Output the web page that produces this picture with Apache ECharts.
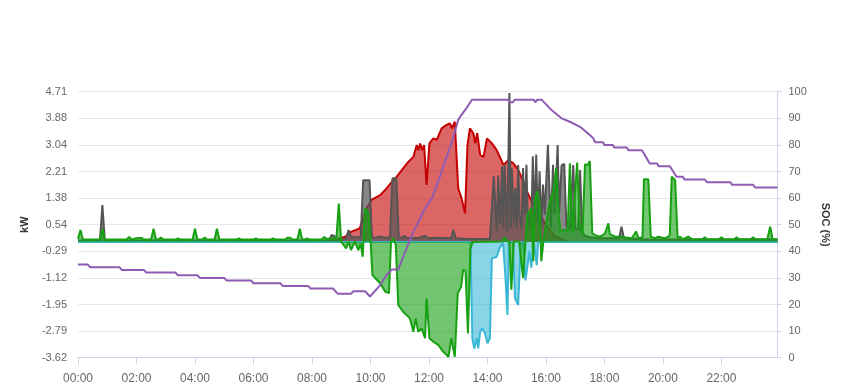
<!DOCTYPE html>
<html><head><meta charset="utf-8">
<script src="https://cdn.jsdelivr.net/npm/echarts@6/dist/echarts.min.js"></script>
<style>html,body{margin:0;padding:0;background:#fff}#c{width:849px;height:390px}</style>
</head><body><div id="c"></div>
<script>
// tick labels
const kwTicks = ["-3.62","-2.79","-1.95","-1.12","-0.29","0.54","1.38","2.21","3.04","3.88","4.71"];
const timeTicks = ["00:00","02:00","04:00","06:00","08:00","10:00","12:00","14:00","16:00","18:00","20:00","22:00"];
// [minute of day, value]
const soc = [[0,35],[20,35],[25,34],[85,34],[90,33],[135,33],[140,32],[200,32],[205,31],[245,31],[250,30],[300,30],[305,29],[355,29],[360,28],[415,28],[420,27],[472,27],[477,26],[523,26],[533,24],[560,24],[565,25],[589,25],[599,23],[620,27.3],[633,31.1],[644,33.2],[657,33.2],[685,46.1],[712,56.2],[726,59.9],[746,69.9],[767,81.2],[780,89.4],[784,90.6],[797,93.8],[808,97],[882,97],[886,96],[892,96],[896,97],[935,97],[938,96],[942,97],[951,97],[972,93],[992,90],[1009,88.7],[1030,86.8],[1050,83.7],[1057,82.5],[1061,81],[1077,81],[1080,80],[1097,80],[1100,79],[1126,79],[1129,78],[1157,78],[1173,73],[1188,73],[1191,72],[1214,72],[1228,68],[1241,68],[1244,67],[1286,67],[1290,66],[1338,66],[1342,65],[1385,65],[1389,64],[1435,64]];
const pv = [[0,0],[505,0],[510,0.02],[530,0.08],[548,0.17],[561,0.33],[578,0.43],[585,0.75],[592,1.06],[602,1.32],[620,1.47],[633,1.68],[644,1.89],[654,2.05],[667,2.31],[678,2.52],[688,2.67],[695,3.04],[698,2.88],[702,3.09],[706,2.88],[710,3.04],[715,1.79],[721,3.09],[729,3.25],[736,3.2],[746,3.56],[756,3.67],[763,3.72],[767,3.56],[773,3.77],[780,1.68],[787,1.37],[794,0.9],[799,3.04],[804,3.56],[811,3.41],[815,3.09],[819,3.41],[825,2.73],[832,2.67],[839,3.25],[849,3.09],[859,2.88],[873,2.41],[883,2.57],[893,2.47],[903,2.26],[914,1.89],[921,1.58],[931,1.27],[941,1.0],[951,0.75],[965,0.43],[979,0.17],[992,0.09],[1005,0],[1435,0]];
const load = [[0,0.05],[45,0.05],[50,1.16],[55,0.05],[515,0.05],[520,0.22],[525,0.2],[532,0.08],[550,0.1],[555,0.38],[560,0.17],[570,0.15],[580,0.15],[585,1.94],[598,1.94],[603,0.15],[610,0.14],[620,0.18],[630,0.14],[640,0.15],[645,2.0],[653,2.0],[658,0.14],[665,0.14],[670,0.2],[675,0.12],[700,0.14],[712,0.2],[718,0.12],[740,0.14],[765,0.12],[770,0.38],[775,0.12],[800,0.1],[845,0.1],[849,0.12],[853,2.06],[859,0.34],[862,2.09],[866,0.55],[870,2.37],[872.5,0.44],[875,2.42],[880.7,0.34],[885,4.67],[888,0.44],[890,2.32],[894,0.65],[897,1.69],[900,0.44],[903,2.42],[906,0.81],[910,0.44],[913,2.32],[916,0.86],[920,2.42],[923,0.44],[927,0.86],[930,0.44],[933,2.69],[937,0.65],[940,2.74],[943.5,0.55],[947,2.22],[950.5,0.44],[954,1.8],[957.5,0.86],[964,3.05],[970,0.44],[974.5,2.42],[978,0.86],[984,3.04],[987,0.9],[992,2.4],[997.5,2.45],[1002,0.5],[1009,0.4],[1016,2.41],[1020.6,0.4],[1026,0.4],[1030,2.26],[1034.6,0.3],[1040,0.2],[1050,0.15],[1071,0.12],[1110,0.12],[1115,0.48],[1120,0.12],[1160,0.08],[1435,0.08]];
const grid = [[0,0],[805,0],[809,-3.01],[813,-3.33],[818,-3.01],[821,-3.33],[825,-2.81],[829,-2.7],[835,-2.86],[840,-3.17],[845,-3.01],[849,-0.51],[859,-0.46],[865,-0.18],[872,-0.02],[874.5,0],[877,-1.13],[881,-2.28],[884,0],[892,0],[896.5,-1.75],[903,-1.97],[908.5,0],[913,0],[918,-1.2],[922,-1.2],[926,-0.3],[930,-0.8],[935,0],[941,-0.72],[944,0],[1435,0]];
const battery = [[0,0.1],[5,0.38],[10,0.08],[45,0.08],[50,0.42],[55,0.08],[100,0.08],[105,0.16],[110,0.08],[120,0.12],[125,0.13],[130,0.13],[135,0.08],[150,0.08],[155,0.42],[160,0.08],[165,0.08],[170,0.14],[175,0.08],[200,0.08],[205,0.12],[210,0.08],[235,0.08],[240,0.42],[245,0.08],[255,0.08],[260,0.14],[265,0.08],[280,0.08],[285,0.42],[290,0.08],[325,0.08],[330,0.12],[335,0.08],[360,0.08],[365,0.12],[370,0.08],[395,0.08],[400,0.12],[405,0.08],[425,0.08],[430,0.14],[435,0.14],[440,0.08],[450,0.08],[455,0.42],[460,0.08],[465,0.08],[470,0.12],[475,0.08],[500,0.08],[505,0.16],[510,0.1],[525,0.12],[530,0.1],[535,1.21],[540,0.0],[545,-0.09],[550,-0.2],[555,0.02],[560,-0.25],[568,0.02],[575,-0.25],[580,-0.05],[584,-0.46],[589,1.06],[595,0.95],[600,0.1],[604,-1.03],[610,-1.13],[620,-1.29],[630,-1.55],[638,-1.6],[642,0.0],[647,0.12],[652,-0.1],[657,-1.97],[667,-2.18],[674,-2.28],[681,-2.39],[688,-2.81],[693,-2.39],[698,-2.81],[705,-2.7],[712,-3.01],[715,-1.76],[721,-3.01],[729,-3.12],[739,-3.22],[749,-3.43],[760,-3.59],[766,-3.01],[773,-3.59],[779,-1.6],[786,-1.4],[790,-0.87],[795,-0.9],[800,-2.86],[805,-0.2],[810,0.0],[870,0.02],[875,0.15],[880,0.05],[885,0.0],[889,-1.49],[894,0.02],[905,0.02],[913,-1.12],[918,0.02],[922,0.86],[930,1.07],[934,-0.6],[937,1.28],[942,1.59],[947,1.17],[950.5,-0.6],[955,0.05],[961,0.65],[968,1.28],[975,1.59],[981,2.32],[986,0.86],[990,0.33],[994,0.33],[999,0.4],[1004.6,0.36],[1009,2.47],[1014,0.27],[1018,0.27],[1024,2.49],[1030,0.4],[1035,0.27],[1040,2.44],[1045,2.4],[1050,2.54],[1055,0.27],[1061,0.22],[1071,0.17],[1081,0.27],[1088,0.59],[1091,0.25],[1102,0.17],[1112,0.17],[1136,0.12],[1145,0.33],[1150,0.12],[1158,0.15],[1161,1.97],[1170,1.97],[1175,0.17],[1184,0.12],[1190,0.17],[1204,0.12],[1214,0.2],[1218,2.05],[1225,1.94],[1230,0.12],[1235,0.17],[1241,0.09],[1252,0.17],[1260,0.09],[1281,0.09],[1286,0.15],[1291,0.09],[1315,0.09],[1320,0.15],[1325,0.09],[1346,0.09],[1351,0.15],[1356,0.09],[1380,0.09],[1385,0.15],[1390,0.09],[1414,0.09],[1420,0.48],[1425,0.09],[1435,0.09]];

const KW_MIN = -3.62, KW_MAX = 4.71, KW_INT = (KW_MAX - KW_MIN) / 10;
const FONT = '"Liberation Sans", Arial, sans-serif';

function area(name, data, color, op, z) {
  return {
    name, type: 'line', data, yAxisIndex: 0, showSymbol: false, symbol: 'none',
    lineStyle: { color, width: 2 }, itemStyle: { color },
    areaStyle: { color, opacity: op, origin: 'auto' }, z, silent: true
  };
}

const chart = echarts.init(document.getElementById('c'), null, { renderer: 'canvas' });
chart.setOption({
  animation: false,
  backgroundColor: '#fff',
  grid: { left: 78, right: 71.5, top: 91.7, bottom: 32.3, containLabel: false, outerBoundsMode: 'none' },
  xAxis: {
    type: 'value', min: 0, max: 1435, interval: 120,
    axisLine: { show: true, onZero: false, lineStyle: { color: '#ccd6eb', width: 1 } },
    axisTick: { show: true, length: 7, lineStyle: { color: '#ccd6eb' }, customValues: timeTicks.map((_, i) => i * 120) },
    axisLabel: { color: '#666', fontSize: 12, fontFamily: FONT, margin: 15,
      customValues: timeTicks.map((_, i) => i * 120),
      formatter: v => timeTicks[Math.round(v / 120)] || '' },
    splitLine: { show: false }
  },
  yAxis: [
    {
      type: 'value', min: KW_MIN, max: KW_MAX, interval: KW_INT,
      name: 'kW', nameLocation: 'middle', nameGap: 48, nameRotate: 90,
      nameTextStyle: { color: '#333', fontSize: 11, fontWeight: 'bold', fontFamily: FONT },
      axisLine: { show: false }, axisTick: { show: false },
      axisLabel: { color: '#666', fontSize: 11, fontFamily: FONT, margin: 11,
        formatter: v => kwTicks[Math.round((v - KW_MIN) / KW_INT)] },
      splitLine: { show: true, lineStyle: { color: '#e6e6e6', width: 1 } }
    },
    {
      type: 'value', min: 0, max: 100, interval: 10, position: 'right',
      name: 'SOC (%)', nameLocation: 'middle', nameGap: 42, nameRotate: -90,
      nameTextStyle: { color: '#333', fontSize: 11, fontWeight: 'bold', fontFamily: FONT },
      axisLine: { show: true, onZero: false, lineStyle: { color: '#ccd6eb', width: 1 } },
      axisTick: { show: true, length: 4, lineStyle: { color: '#ccd6eb' } },
      axisLabel: { color: '#666', fontSize: 11, fontFamily: FONT, margin: 11 },
      splitLine: { show: false }
    }
  ],
  series: [
    area('PV', pv, '#c40000', 0.6, 1),
    area('Load', load, '#555555', 0.7, 2),
    area('Grid', grid, '#3ab7d6', 0.6, 3),
    area('Battery', battery, '#16a012', 0.6, 4),
    { name: 'SOC', type: 'line', data: soc, yAxisIndex: 1, showSymbol: false, symbol: 'none',
      lineStyle: { color: '#8e5cb2', width: 2 }, itemStyle: { color: '#8e5cb2' }, z: 5, silent: true }
  ]
});
</script>
</body></html>
